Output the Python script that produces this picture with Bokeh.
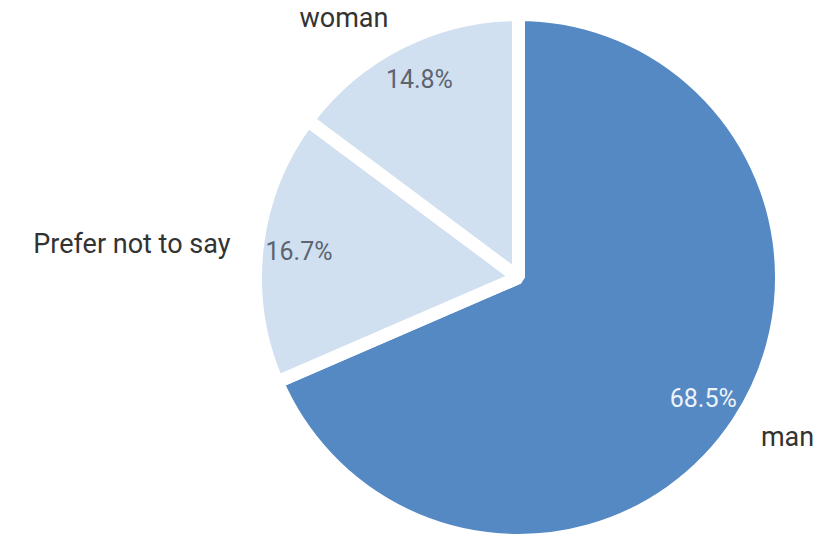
import math
from bokeh.plotting import figure
from bokeh.models import Range1d, ColumnDataSource
from bokeh.core.properties import value
from bokeh.embed import file_html
from bokeh.resources import INLINE

categories = ["man", "Prefer not to say", "woman"]
shares = [68.5, 16.7, 14.8]
pct_labels = ["68.5%", "16.7%", "14.8%"]
colors = ["#5589C4", "#D1E0F0", "#D1E0F0"]
pct_colors = ["#EEF4FA", "#5C6470", "#5C6470"]

W, H = 840, 536
p = figure(width=W, height=H, output_backend="svg", toolbar_location=None,
           x_range=Range1d(0, W), y_range=Range1d(0, H),
           min_border=0, outline_line_color=None)
p.axis.visible = False
p.grid.visible = False

cx, cy = 518, H - 277
R = 257

total = sum(shares)
start_c = 0.0
starts, ends, mids = [], [], []
for s in shares:
    end_c = start_c + s / total * 360.0
    starts.append(math.radians(90 - end_c))
    ends.append(math.radians(90 - start_c))
    mids.append(math.radians(90 - (start_c + end_c) / 2))
    start_c = end_c

src = ColumnDataSource(dict(start=starts, end=ends, color=colors))
p.wedge(x=cx, y=cy, radius=R + 6, start_angle="start", end_angle="end",
        fill_color="color", line_color="white", line_width=13, source=src)

rin = 221
px = [cx + rin * math.cos(m) for m in mids]
py = [cy + rin * math.sin(m) for m in mids]
p.text(x=px, y=py, text=pct_labels, text_color=pct_colors,
       text_font=value("Roboto"), text_font_size="25px",
       text_align="center", text_baseline="middle")

rout = 290
lx = [cx + rout * math.cos(m) for m in mids]
ly = [cy + rout * math.sin(m) for m in mids]
aligns = ["left" if math.cos(m) > 0 else "right" for m in mids]
src2 = ColumnDataSource(dict(x=lx, y=ly, t=categories, a=aligns))
p.text(x="x", y="y", text="t", text_align="a", source=src2,
       text_color="#333333", text_font=value("Roboto"), text_font_size="27px",
       text_baseline="middle")

open("out.html", "w").write(file_html(p, INLINE))
